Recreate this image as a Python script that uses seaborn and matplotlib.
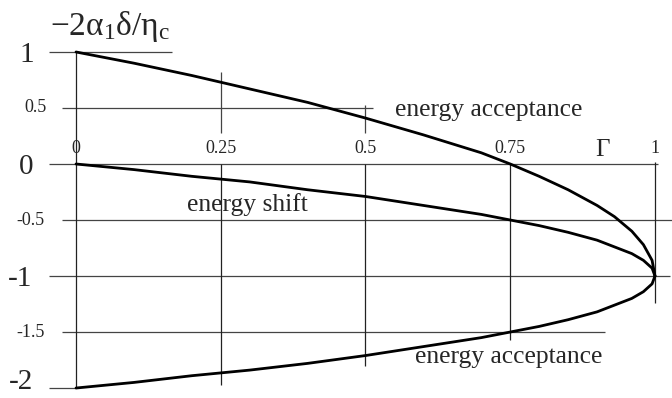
import numpy as np
import pandas as pd
import seaborn as sns
import matplotlib.pyplot as plt

# valores (Gamma no eixo x)
gamma = [0, 0.1, 0.2, 0.3, 0.4, 0.5, 0.6, 0.7, 0.75, 0.8, 0.85, 0.9, 0.93, 0.96, 0.98, 0.995, 1.0]
acc_upper = [1.0, 0.90, 0.79, 0.67, 0.55, 0.41, 0.26, 0.10, 0.0, -0.11, -0.23, -0.37, -0.47, -0.60, -0.72, -0.86, -1.0]
shift = [0.0, -0.05, -0.11, -0.16, -0.23, -0.29, -0.37, -0.45, -0.50, -0.55, -0.61, -0.68, -0.74, -0.80, -0.86, -0.93, -1.0]
acc_lower = [-2.0, -1.95, -1.89, -1.84, -1.78, -1.71, -1.63, -1.55, -1.50, -1.45, -1.39, -1.32, -1.26, -1.20, -1.14, -1.07, -1.0]

x_ticks = [0, 0.25, 0.5, 0.75, 1]
x_tick_labels = ["0", "0.25", "0.5", "0.75", "1"]
y_ticks = [1, 0.5, 0, -0.5, -1, -1.5, -2]
y_tick_labels = ["1", "0.5", "0", "-0.5", "-1", "-1.5", "-2"]

# extensao das linhas de grade (como no desenho original)
h_start = [-0.047, -0.024, -0.047, -0.024, -0.047, -0.024, -0.047]
h_end = [0.166, 0.513, 1.005, 1.03, 1.026, 0.914, 0.0]
v_top = [1.0, 0.0, 0.0, 0.0, 0.02]
v_bottom = [-2.0, -1.97, -1.80, -1.57, -1.24]

sns.set_style("white")
plt.rcParams['font.family'] = ['Liberation Serif', 'DejaVu Serif']
plt.rcParams['mathtext.fontset'] = 'custom'
plt.rcParams['mathtext.rm'] = 'Liberation Serif'
plt.rcParams['mathtext.it'] = 'Liberation Serif'

fig = plt.figure(figsize=(6.72, 3.98), dpi=100)
ax = fig.add_axes([0, 0, 1, 1])
ax.set_xlim(-0.1313, 1.0294)
ax.set_ylim(-2.089, 1.464)
ax.axis('off')

# grade
ax.hlines(y_ticks, h_start, h_end, color='#444444', lw=0.9)
ax.vlines(x_ticks, v_bottom, v_top, color='#222222', lw=0.9)
# pequenos tracos acima do zero
ax.vlines([0.25, 0.5], [0.28, 0.28], [0.82, 0.53], color='#444444', lw=0.9)

df = pd.DataFrame({'gamma': gamma, 'upper': acc_upper, 'shift': shift, 'lower': acc_lower})
for col in ['upper', 'shift', 'lower']:
    sns.lineplot(data=df, x='gamma', y=col, ax=ax, color='black', lw=2, sort=False)
ax.set_xlabel('')
ax.set_ylabel('')

# rotulos do eixo x (em cima da linha do zero)
for xv, lab in zip(x_ticks, x_tick_labels):
    ax.text(xv, 0.134, lab, ha='center', va='center', fontsize=13)
ax.text(0.91, 0.125, "Γ", ha='center', va='center', fontsize=18)

# rotulos do eixo y
y_label_x = [27, 35, 26, 30, 20, 31, 21]
for yv, lab, px in zip(y_ticks, y_tick_labels, y_label_x):
    xv = (px - 76) / 579
    big = lab in ["1", "0", "-1", "-2"]
    off = 0.03 if big else 0.0
    if lab == "-2":
        off = -0.05
    ax.text(xv, yv - off, lab, ha='center', va='center',
            fontsize=21 if big else 13)

ax.text(0.059, 1.23, r'$\mathrm{-2\alpha_1\delta/\eta_c}$', ha='center', va='center', fontsize=24)

ax.text(0.551, 0.48, "energy acceptance", ha='left', va='center', fontsize=18.4)
ax.text(0.192, -0.366, "energy shift", ha='left', va='center', fontsize=18.4)
ax.text(0.585, -1.72, "energy acceptance", ha='left', va='center', fontsize=18.4)

fig.savefig("out.png", dpi=100)
